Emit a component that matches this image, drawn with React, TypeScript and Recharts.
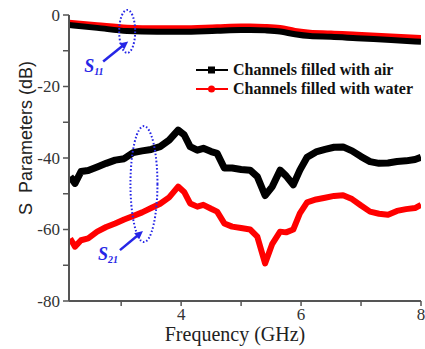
import React from 'react';
import {
  LineChart, Line, XAxis, YAxis, ReferenceDot, Legend, Label,
} from 'recharts';

// S21 curves (dB)
const s21Freq = [
  2.15, 2.23, 2.33, 2.45, 2.6, 2.75, 2.9, 3.05, 3.2, 3.35, 3.5, 3.65, 3.8, 3.95, 4.05,
  4.15, 4.27, 4.37, 4.5, 4.6, 4.72, 4.85, 5.0, 5.15, 5.27, 5.4, 5.52, 5.65, 5.75, 5.87,
  5.98, 6.1, 6.25, 6.4, 6.55, 6.7, 6.85, 7.0, 7.15, 7.3, 7.45, 7.6, 7.75, 7.9, 8.0,
];
const airS21 = [
  -45.2, -47.1, -43.8, -43.5, -42.5, -41.5, -40.6, -40.2, -38.5, -38.0, -37.6, -36.8, -35.0, -32.2, -33.5,
  -36.8, -37.8, -37.3, -38.2, -38.7, -42.8, -42.8, -43.2, -43.4, -45.2, -50.5, -48.0, -43.4, -45.0, -47.5,
  -43.4, -39.8, -38.3, -37.6, -37.0, -36.9, -38.0, -39.6, -41.0, -41.5, -41.4, -41.0, -40.8, -40.4, -39.8,
];
const waterS21 = [
  -62.5, -64.8, -63.0, -62.5, -60.6, -59.3, -58.3, -57.2, -56.2, -55.2, -54.0, -52.8, -51.0, -48.0, -49.5,
  -52.7, -53.6, -53.1, -54.2, -55.0, -58.3, -59.2, -59.6, -60.0, -62.0, -69.5, -64.0, -60.6, -60.8, -60.0,
  -55.5, -52.4, -51.6, -51.1, -50.6, -50.4, -51.5, -53.3, -55.0, -55.6, -55.9, -54.8, -54.3, -54.0, -53.1,
];

// S11 curves (dB)
const s11Freq = [2.13, 2.6, 3.1, 3.6, 4.0, 4.6, 5.0, 5.15, 5.4, 5.65, 5.9, 6.15, 6.5, 6.93, 7.5, 8.0];
const airS11 = [-2.8, -3.6, -4.5, -4.7, -4.7, -4.4, -4.2, -4.2, -4.3, -4.6, -5.4, -5.9, -6.1, -6.5, -7.0, -7.5];
const waterS11 = [-2.0, -2.7, -3.4, -3.6, -3.6, -3.3, -3.1, -3.1, -3.2, -3.5, -4.3, -4.8, -5.0, -5.4, -5.9, -6.3];

const xTicks = [3, 4, 5, 6, 7, 8];
const yTicks = [-80, -70, -60, -50, -40, -30, -20, -10, 0];

const AIR = 'Channels filled with air';
const WATER = 'Channels filled with water';
const legendNames = [AIR, WATER];

const s21Rows = s21Freq.map((f, i) => ({ f, air: airS21[i], water: waterS21[i] }));
const s11Rows = s11Freq.map((f, i) => ({ f, air: airS11[i], water: waterS11[i] }));

const BLUE = '#2626e6';
const SERIF = 'Liberation Serif';
const SANS = 'Liberation Sans';

function XTick({ x, y, payload }: any) {
  const v = payload.value;
  return (
    <g>
      <line x1={x} y1={y - 6} x2={x} y2={y - 1} stroke="#555" strokeWidth={1.5} />
      {v % 2 === 0 && (
        <text x={x} y={y + 13} textAnchor="middle" fontFamily={SERIF} style={{ fontFamily: SERIF }}
          fontSize={17} fill="#333">{v}</text>
      )}
    </g>
  );
}

function YTick({ x, y, payload }: any) {
  const v = payload.value;
  return (
    <g>
      <line x1={x + 3} y1={y} x2={x + 9} y2={y} stroke="#555" strokeWidth={1.5} />
      {v % 20 === 0 && (
        <text x={x} y={y + 5.5} textAnchor="end" fontFamily={SERIF} style={{ fontFamily: SERIF }}
          fontSize={17} fill="#333">{v}</text>
      )}
    </g>
  );
}

function Marker({ cx, cy, rx, ry, label, sub, lx, ly, ax0, ay0, ax1, ay1 }: any) {
  if (cx == null || cy == null) return null;
  const x0 = cx + ax0, y0 = cy + ay0, x1 = cx + ax1, y1 = cy + ay1;
  const ang = Math.atan2(y1 - y0, x1 - x0);
  const h = 9;
  const p1 = `${x1},${y1}`;
  const p2 = `${x1 - h * Math.cos(ang - 0.45)},${y1 - h * Math.sin(ang - 0.45)}`;
  const p3 = `${x1 - h * Math.cos(ang + 0.45)},${y1 - h * Math.sin(ang + 0.45)}`;
  return (
    <g>
      <ellipse cx={cx} cy={cy} rx={rx} ry={ry} fill="none" stroke={BLUE} strokeWidth={2} strokeDasharray="1.6 2" />
      <line x1={x0} y1={y0} x2={x1 - 5 * Math.cos(ang)} y2={y1 - 5 * Math.sin(ang)} stroke={BLUE} strokeWidth={2.5} />
      <polygon points={`${p1} ${p2} ${p3}`} fill={BLUE} />
      <text x={cx + lx} y={cy + ly} fill={BLUE} fontFamily={SERIF} fontStyle="italic" fontWeight="bold" fontSize={18}>
        {label}
        <tspan fontSize={10} dy={3}>{sub}</tspan>
      </text>
    </g>
  );
}

function LegendBox({ payload }: any) {
  const items = (payload || []).filter((p: any) => legendNames.includes(p.value));
  return (
    <div style={{ fontFamily: SERIF, fontWeight: 'bold', fontSize: 16, color: '#111', textAlign: 'left' }}>
      {items.map((p: any) => (
        <div key={p.value} style={{ display: 'flex', alignItems: 'center', height: 19 }}>
          <svg width={34} height={12} style={{ marginRight: 4 }}>
            <line x1={1} y1={6} x2={33} y2={6} stroke={p.color} strokeWidth={2} />
            {p.value === AIR
              ? <rect x={13} y={2.5} width={7} height={7} fill={p.color} />
              : <circle cx={16.5} cy={6} r={3.5} fill={p.color} />}
          </svg>
          <span>{p.value}</span>
        </div>
      ))}
    </div>
  );
}

export default function App() {
  return (
    <div style={{ position: 'absolute', left: 0, top: 0, background: '#fff' }}>
      <LineChart width={425} height={349} margin={{ top: 15, right: 4, bottom: 0, left: 0 }}>
        <XAxis
          type="number"
          dataKey="f"
          domain={[2.13, 8]}
          ticks={xTicks}
          allowDataOverflow
          height={48}
          tickSize={0}
          tickMargin={6}
          tickLine={false}
          tick={<XTick />}
          axisLine={{ stroke: '#555', strokeWidth: 2 }}
        >
          <Label
            content={({ viewBox }: any) => (
              <text x={viewBox.x + viewBox.width / 2 - 10} y={viewBox.y + 40} textAnchor="middle"
                fontFamily={SERIF} style={{ fontFamily: SERIF }} fontSize={20} fill="#222">
                Frequency (GHz)
              </text>
            )}
          />
        </XAxis>
        <YAxis
          type="number"
          domain={[-80, 0]}
          ticks={yTicks}
          width={69}
          tickSize={0}
          tickMargin={9}
          tickLine={false}
          tick={<YTick />}
          axisLine={{ stroke: '#555', strokeWidth: 2 }}
        >
          <Label
            content={({ viewBox }: any) => {
              const cx = viewBox.x + 26;
              const cy = viewBox.y + viewBox.height / 2 - 20;
              return (
                <text x={cx} y={cy} transform={`rotate(-90 ${cx} ${cy})`} textAnchor="middle"
                  dominantBaseline="central" fontSize={18} fill="#222" fontFamily={SANS}
                  style={{ whiteSpace: 'pre' }}>
                  {'S\u00a0 Parameters (dB)'}
                </text>
              );
            }}
          />
        </YAxis>
        <Line data={s21Rows} dataKey="air" name={AIR} stroke="#000" strokeWidth={7} dot={false}
          strokeLinejoin="round" type="linear" isAnimationActive={false} />
        <Line data={s21Rows} dataKey="water" name={WATER} stroke="#ff0000" strokeWidth={6} dot={false}
          strokeLinejoin="round" type="linear" isAnimationActive={false} />
        <Line data={s11Rows} dataKey="water" name="s11 water" legendType="none" stroke="#ff0000" strokeWidth={5}
          dot={false} type="monotone" isAnimationActive={false} />
        <Line data={s11Rows} dataKey="air" name="s11 air" legendType="none" stroke="#000" strokeWidth={6}
          dot={false} type="monotone" isAnimationActive={false} />
        <ReferenceDot x={3.1} y={-4.6} ifOverflow="visible"
          shape={(p: any) => (
            <Marker cx={p.cx} cy={p.cy} rx={8} ry={21.5} label="S" sub="11" lx={-43} ly={41}
              ax0={-24} ay0={30} ax1={1} ay1={10} />
          )}
        />
        <ReferenceDot x={3.38} y={-47.3} ifOverflow="visible"
          shape={(p: any) => (
            <Marker cx={p.cx} cy={p.cy} rx={13.5} ry={58} label="S" sub="21" lx={-46} ly={76}
              ax0={-24} ay0={66} ax1={-1} ay1={47} />
          )}
        />
        <Legend
          layout="horizontal"
          verticalAlign="middle"
          align="center"
          content={LegendBox}
          wrapperStyle={{ left: 195, top: 60, width: 230 }}
        />
      </LineChart>
    </div>
  );
}
